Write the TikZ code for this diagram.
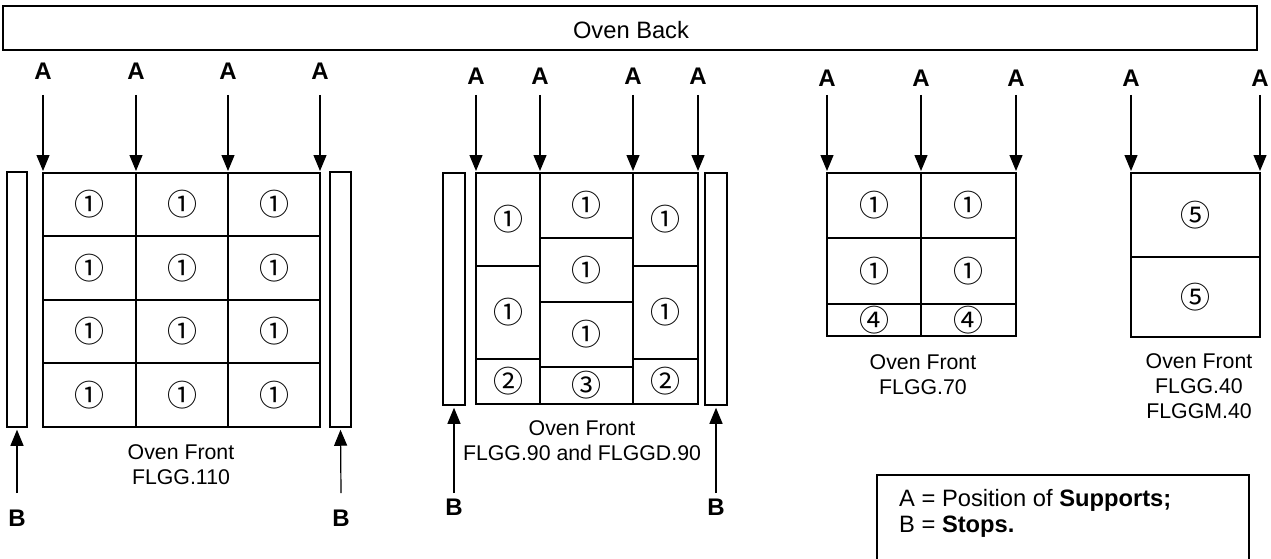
\documentclass[tikz,border=0pt]{standalone}
\usepackage{fontspec}
\setmainfont{Liberation Sans}
\newfontfamily\circfont{Noto Sans CJK SC}
\usetikzlibrary{arrows.meta}
\begin{document}
\begin{tikzpicture}[x=1pt,y=-1pt,
  outerln/.style={line width=2pt},
  innerln/.style={line width=1.2pt},
  stopbar/.style={draw,line width=1.5pt,inner sep=0pt},
  arr/.style={line width=1.2pt,-{Triangle[length=16pt,width=13pt]},shorten >=2pt},
  lab/.style={font=\fontsize{24}{24}\selectfont\bfseries,inner sep=0pt},
  capt/.style={font=\fontsize{21.3}{25}\selectfont,align=center,inner sep=0pt},
  num/.style={font=\circfont\fontsize{30}{30}\selectfont,inner sep=0pt},
  legtxt/.style={font=\fontsize{23.7}{23.7}\selectfont,inner sep=0pt,anchor=west}
]
\useasboundingbox (0,0) rectangle (1271,559);

% Oven back
\draw[line width=2pt] (3,6) rectangle (1257,50);
\node[font=\fontsize{23.7}{23.7}\selectfont,inner sep=0pt] (back) at (631,30) {Oven Back};

% ---------------- Left group FLGG.110
\draw[innerln] (136,173)--(136,427) (228,173)--(228,427)
  (43,236)--(320,236) (43,300)--(320,300) (43,363)--(320,363);
\draw[outerln] (43,173) rectangle (320,427);
\foreach \x [count=\i] in {89.5,182,274}
  \foreach \y [count=\j] in {204.5,268,331.5,395}
    \node[num] (L\i\j) at (\x,\y) {①};
\node[stopbar,minimum width=20pt,minimum height=255pt] (Ls1) at (17,299.5) {};
\node[stopbar,minimum width=21pt,minimum height=255pt] (Ls2) at (340.5,299.5) {};
\foreach \x [count=\i] in {43,136,228,320}{
  \node[lab] (LA\i) at (\x,71) {A};
  \coordinate (LAs\i) at (\x,95);
  \coordinate (LAe\i) at (\x,173);
  \draw[arr] (LAs\i) -- (LAe\i);
}
\node[lab] (LB1) at (17,518) {B};
\node[lab] (LB2) at (341,518) {B};
\coordinate (LBs1) at (17,493);
\coordinate (LBs2) at (341,493);
\draw[arr] (LBs1) -- (Ls1.south);
\draw[arr] (LBs2) -- (Ls2.south);
\node[capt] (Lcap) at (181,465) {Oven Front\\FLGG.110};

% ---------------- Middle group FLGG.90
\draw[innerln] (540,173)--(540,404) (633,173)--(633,404)
  (476,266)--(540,266) (476,359)--(540,359)
  (633,266)--(698,266) (633,359)--(698,359)
  (540,238)--(633,238) (540,302)--(633,302) (540,367)--(633,367);
\draw[outerln] (476,173) rectangle (698,404);
\node[num] (M11) at (508,219.5) {①};
\node[num] (M12) at (508,312.5) {①};
\node[num] (M13) at (508,381.5) {②};
\node[num] (M21) at (586.5,205.5) {①};
\node[num] (M22) at (586.5,270) {①};
\node[num] (M23) at (586.5,334.5) {①};
\node[num] (M24) at (586.5,385.5) {③};
\node[num] (M31) at (665.5,219.5) {①};
\node[num] (M32) at (665.5,312.5) {①};
\node[num] (M33) at (665.5,381.5) {②};
\node[stopbar,minimum width=22pt,minimum height=232pt] (Ms1) at (454,289) {};
\node[stopbar,minimum width=22pt,minimum height=232pt] (Ms2) at (716,289) {};
\foreach \x [count=\i] in {476,540,633,698}{
  \node[lab] (MA\i) at (\x,76) {A};
  \coordinate (MAs\i) at (\x,95);
  \coordinate (MAe\i) at (\x,173);
  \draw[arr] (MAs\i) -- (MAe\i);
}
\node[lab] (MB1) at (454,507) {B};
\node[lab] (MB2) at (716,507) {B};
\coordinate (MBs1) at (454,493);
\coordinate (MBs2) at (716,493);
\draw[arr] (MBs1) -- (Ms1.south);
\draw[arr] (MBs2) -- (Ms2.south);
\node[capt] (Mcap) at (582,441) {Oven Front\\FLGG.90 and FLGGD.90};

% ---------------- Right group FLGG.70
\draw[innerln] (921,173)--(921,336) (827,238)--(1016,238) (827,304)--(1016,304);
\draw[outerln] (827,173) rectangle (1016,336);
\node[num] (R11) at (874,205.5) {①};
\node[num] (R12) at (874,271) {①};
\node[num] (R13) at (874,320) {④};
\node[num] (R21) at (968.5,205.5) {①};
\node[num] (R22) at (968.5,271) {①};
\node[num] (R23) at (968.5,320) {④};
\foreach \x [count=\i] in {827,921,1016}{
  \node[lab] (RA\i) at (\x,78) {A};
  \coordinate (RAs\i) at (\x,95);
  \coordinate (RAe\i) at (\x,173);
  \draw[arr] (RAs\i) -- (RAe\i);
}
\node[capt] (Rcap) at (923,374.5) {Oven Front\\FLGG.70};

% ---------------- Far right group FLGG.40
\draw[innerln] (1131,257)--(1260,257);
\draw[outerln] (1131,173) rectangle (1260,337);
\node[num] (F1) at (1195.5,215) {⑤};
\node[num] (F2) at (1195.5,297) {⑤};
\foreach \x [count=\i] in {1131,1260}{
  \node[lab] (FA\i) at (\x,78) {A};
  \coordinate (FAs\i) at (\x,95);
  \coordinate (FAe\i) at (\x,173);
  \draw[arr] (FAs\i) -- (FAe\i);
}
\node[capt] (Fcap) at (1199,386) {Oven Front\\FLGG.40\\FLGGM.40};

% ---------------- Legend
\draw[line width=1.5pt] (877,475) rectangle (1249,580);
\node[legtxt] (leg1) at (899,500) {A = Position of \textbf{Supports;}};
\node[legtxt] (leg2) at (899,527) {B = \textbf{Stops.}};
\end{tikzpicture}
\end{document}
